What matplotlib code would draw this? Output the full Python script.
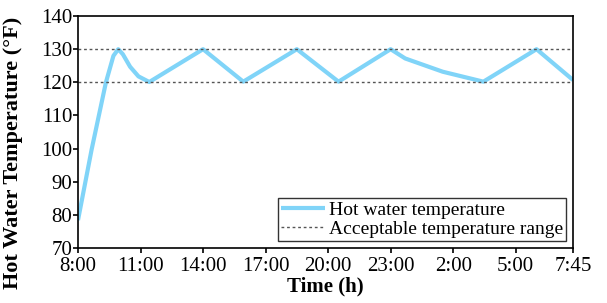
import matplotlib
matplotlib.use("Agg")
import matplotlib.pyplot as plt

plt.rcParams['font.family'] = ['Liberation Serif', 'DejaVu Serif']

# hours after 8:00
hours = [0.0, 0.65, 1.34, 1.7, 1.93, 2.15, 2.5, 2.9, 3.42, 6.0, 7.93, 10.5, 12.5, 15.0, 15.7, 17.5, 19.45, 22.0, 23.75]
temps = [78.4, 99.6, 120.0, 128.0, 130.0, 128.5, 124.7, 121.8, 120.1, 130.0, 120.2, 130.0, 120.2, 130.0, 127.2, 123.2, 120.2, 130.0, 120.7]
range_low, range_high = 120, 130
tick_hours = [0, 3, 6, 9, 12, 15, 18, 21, 23.75]
tick_labels = ["8:00", "11:00", "14:00", "17:00", "20:00", "23:00", "2:00", "5:00", "7:45"]

fig = plt.figure(figsize=(6.07, 3.03), dpi=100)
ax = fig.add_axes([0.1285, 0.1815, 0.8155, 0.7655])

ax.plot(hours, temps, color='#80d4f8', lw=3.0, label='Hot water temperature',
        solid_joinstyle='round', solid_capstyle='butt')
ax.axhline(range_high, color='#555555', lw=1.0, ls=(0, (2, 2)), label='Acceptable temperature range')
ax.axhline(range_low, color='#555555', lw=1.0, ls=(0, (2, 2)))

ax.set_xlim(0, 23.75)
ax.set_ylim(70, 140)
ax.set_xticks(tick_hours)
ax.set_xticklabels(tick_labels)
ax.set_yticks(range(70, 141, 10))
ax.tick_params(axis='both', labelsize=15, direction='out', length=3.5, width=1.2)
ax.tick_params(axis='y', pad=0.5)
ax.tick_params(axis='x', pad=3)
for s in ax.spines.values():
    s.set_linewidth(1.2)

ax.set_xlabel('Time (h)', fontsize=15, fontweight='bold', labelpad=0)
ax.set_ylabel('Hot Water Temperature (°F)', fontsize=16, fontweight='bold')
ax.yaxis.set_label_coords(-0.112, 0.41)

leg = ax.legend(loc='lower right', fontsize=14, frameon=True, fancybox=False, edgecolor='black',
                handlelength=2.3, borderpad=0.15, labelspacing=0.1, handletextpad=0.2,
                borderaxespad=0.35)
leg.get_frame().set_linewidth(1.0)

fig.savefig('out.png', dpi=100)
